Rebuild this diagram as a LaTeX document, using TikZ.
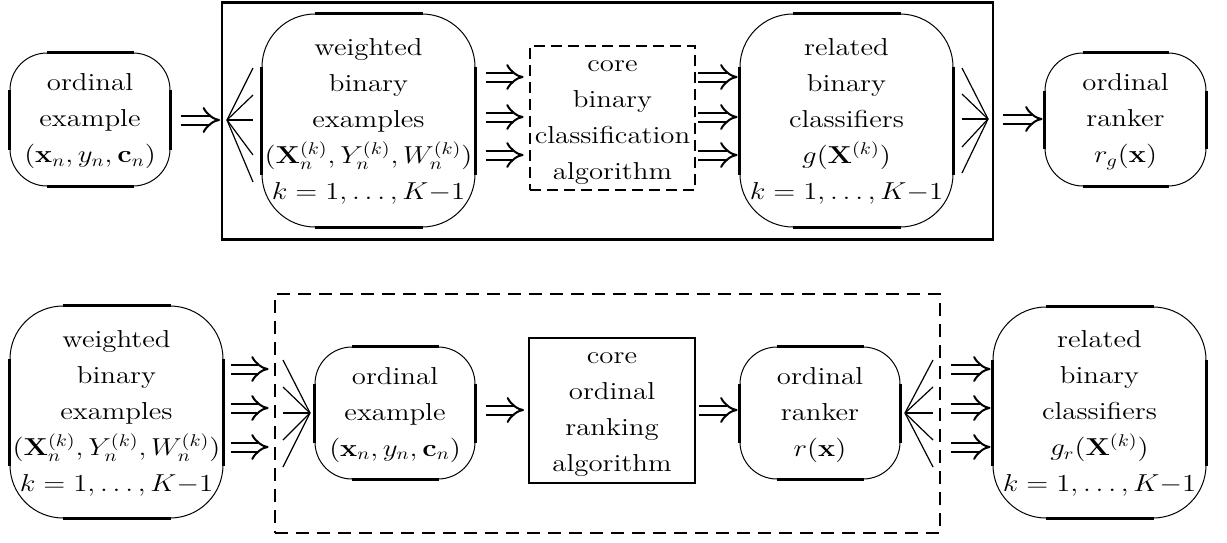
\documentclass[tikz,border=0pt]{standalone}
\usepackage{graphicx}
\usetikzlibrary{arrows.meta}
\newcommand\sqz[1]{\scalebox{1}[0.85]{\begin{tabular}{@{}c@{}}#1\end{tabular}}}
\newcommand\thk[2]{%
  \draw[thkseg] ([xshift=#2]#1.north west) -- ([xshift=-#2]#1.north east);
  \draw[thkseg] ([xshift=#2]#1.south west) -- ([xshift=-#2]#1.south east);
  \draw[thkseg] ([yshift=-#2]#1.north west) -- ([yshift=#2]#1.south west);
  \draw[thkseg] ([yshift=-#2]#1.north east) -- ([yshift=#2]#1.south east);
}
\begin{document}
\begin{tikzpicture}[x=0.5pt,y=-0.5pt,
  font=\fontsize{14.4}{21.2}\selectfont,
  rbox/.style={draw, line width=0.5pt, inner sep=0pt, align=center},
  thkseg/.style={line width=1.5pt},
  imp/.style={double, double distance=3.5pt, line width=1pt, -{Implies}},
  fanline/.style={line width=0.6pt},
  fanmid/.style={line width=1.3pt},
  dsh/.style={draw, line width=1.4pt, dash pattern=on 5.5pt off 3pt, inner sep=0pt, align=center},
  bigdsh/.style={draw, line width=1.4pt, dash pattern=on 6.5pt off 4pt, inner sep=0pt},
  plainbox/.style={draw, line width=1pt, inner sep=0pt, align=center}]
\useasboundingbox (0,0) rectangle (1227,542);

% ---------------- top row ----------------
\node[draw, line width=1.3pt, minimum width=385.5pt, minimum height=118.5pt, inner sep=0pt] (outer) at (607.5,121) {};

\node[rbox, rounded corners=18.5pt, minimum width=80pt, minimum height=66.5pt] (oe1) at (90,119.5)
  {\sqz{ordinal\\example\\$(\mathbf{x}_n,y_n,\mathbf{c}_n)$}};
\thk{oe1}{18.5pt}

\node[rbox, rounded corners=26.5pt, minimum width=106.5pt, minimum height=106.5pt] (wb1) at (368.5,120.5)
  {\sqz{weighted\\binary\\examples\\$\bigl(\mathbf{X}_n^{(k)},Y_n^{(k)},W_n^{(k)}\bigr)$\\$k=1,\ldots,K{-}1$}};
\thk{wb1}{26.5pt}

\node[dsh, minimum width=82.5pt, minimum height=69pt] (core1) at (612.5,118)
  {\sqz{core\\binary\\classification\\algorithm}};

\node[rbox, rounded corners=26.5pt, minimum width=106.5pt, minimum height=106.5pt] (rb1) at (846.5,120.5)
  {\sqz{related\\binary\\classifiers\\$g\bigl(\mathbf{X}^{(k)}\bigr)$\\$k=1,\ldots,K{-}1$}};
\thk{rb1}{26.5pt}

\node[rbox, rounded corners=19pt, minimum width=80.5pt, minimum height=66.5pt] (or1) at (1125.5,119.5)
  {\sqz{ordinal\\ranker\\$r_g(\mathbf{x})$}};
\thk{or1}{19pt}

% fan A (into weighted binary examples)
\coordinate (fA) at (227,120);
\coordinate (fA1) at (253,68);
\coordinate (fA2) at (253,95);
\coordinate (fA3) at (253,120);
\coordinate (fA4) at (253,155);
\coordinate (fA5) at (253,182);
\draw[fanline] (fA) -- (fA1);
\draw[fanline] (fA) -- (fA2);
\draw[fanmid] (fA) -- (fA3);
\draw[fanline] (fA) -- (fA4);
\draw[fanline] (fA) -- (fA5);

% fan B (out of related binary classifiers)
\coordinate (fB) at (988,119);
\coordinate (fB1) at (962,68);
\coordinate (fB2) at (962,94);
\coordinate (fB3) at (962,119);
\coordinate (fB4) at (962,147);
\coordinate (fB5) at (962,173);
\draw[fanline] (fB1) -- (fB);
\draw[fanline] (fB2) -- (fB);
\draw[fanmid] (fB3) -- (fB);
\draw[fanline] (fB4) -- (fB);
\draw[fanline] (fB5) -- (fB);

% arrows top
\draw[imp, shorten <=5pt, shorten >=3.5pt] (oe1.east |- fA) -- (fA);
\foreach \yy in {77,117,155}{
  \draw[imp, shorten <=5pt, shorten >=2.5pt] (wb1.east |- 0,\yy) -- (core1.west |- 0,\yy);
  \draw[imp, shorten <=1pt, shorten >=1pt] (core1.east |- 0,\yy) -- (rb1.west |- 0,\yy);
}
\draw[imp, shorten <=7.5pt, shorten >=1pt] (fB) -- (or1.west |- fB);

% ---------------- bottom row ----------------
\node[bigdsh, minimum width=332.5pt, minimum height=119.5pt] (dbox) at (607.5,413.5) {};

\node[rbox, rounded corners=26.5pt, minimum width=106.5pt, minimum height=106pt] (wb2) at (116.5,412)
  {\sqz{weighted\\binary\\examples\\$\bigl(\mathbf{X}_n^{(k)},Y_n^{(k)},W_n^{(k)}\bigr)$\\$k=1,\ldots,K{-}1$}};
\thk{wb2}{26.5pt}

\node[rbox, rounded corners=18.5pt, minimum width=80pt, minimum height=66pt] (oe2) at (395,413)
  {\sqz{ordinal\\example\\$(\mathbf{x}_n,y_n,\mathbf{c}_n)$}};
\thk{oe2}{18.5pt}

\node[plainbox, minimum width=83pt, minimum height=69.5pt] (core2) at (612,410.5)
  {\sqz{core\\ordinal\\ranking\\algorithm}};

\node[rbox, rounded corners=18.5pt, minimum width=80pt, minimum height=66pt] (or2) at (820,413)
  {\sqz{ordinal\\ranker\\$r(\mathbf{x})$}};
\thk{or2}{18.5pt}

\node[rbox, rounded corners=26.5pt, minimum width=106.5pt, minimum height=105.5pt] (rb2) at (1099.5,412.5)
  {\sqz{related\\binary\\classifiers\\$g_r\bigl(\mathbf{X}^{(k)}\bigr)$\\$k=1,\ldots,K{-}1$}};
\thk{rb2}{26.5pt}

% fan C (into ordinal example)
\coordinate (fC) at (310,413);
\foreach \yy/\nm in {360/1,387/2,440/4,467/5}{
  \coordinate (fC\nm) at (283,\yy);
  \draw[fanline] (fC\nm) -- (fC);
}
\coordinate (fC3) at (283,413);
\draw[fanmid] (fC3) -- (fC);

% fan D (out of ordinal ranker)
\coordinate (fD) at (905,413);
\foreach \yy/\nm in {360/1,387/2,440/4,467/5}{
  \coordinate (fD\nm) at (933,\yy);
  \draw[fanline] (fD) -- (fD\nm);
}
\coordinate (fD3) at (933,413);
\draw[fanmid] (fD) -- (fD3);

% arrows bottom
\foreach \yy in {369,408,447}{
  \draw[imp, shorten <=3.5pt, shorten >=2.5pt] (wb2.east |- 0,\yy) -- (dbox.west |- 0,\yy);
  \draw[imp, shorten <=5pt, shorten >=1pt] (dbox.east |- 0,\yy) -- (rb2.west |- 0,\yy);
}
\draw[imp, shorten <=5pt, shorten >=2pt] (oe2.east |- 0,410) -- (core2.west |- 0,410);
\draw[imp, shorten <=1.5pt, shorten >=1pt] (core2.east |- 0,410) -- (or2.west |- 0,410);
\end{tikzpicture}
\end{document}
